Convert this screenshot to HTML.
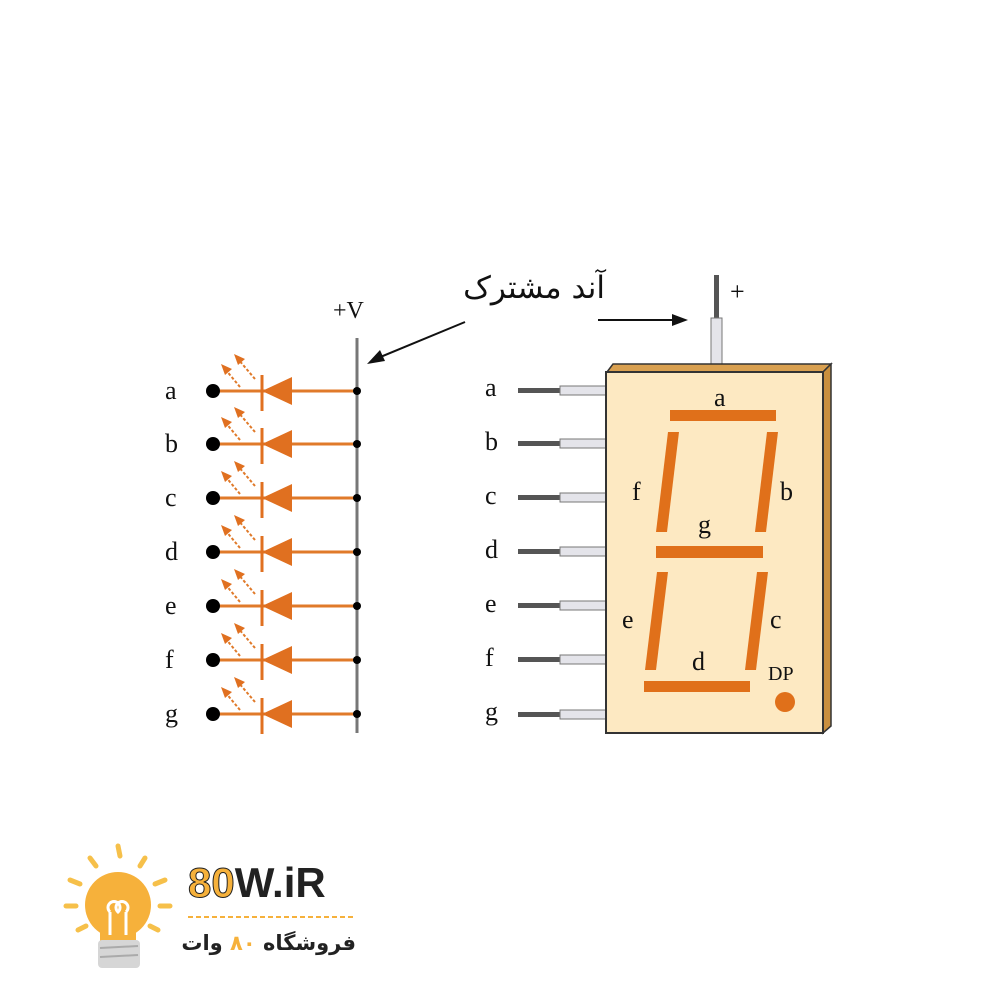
<!DOCTYPE html>
<html><head><meta charset="utf-8"><style>body{margin:0;background:#fff;position:relative;width:1000px;height:1000px}svg{display:block}
.fa{position:absolute;direction:rtl;white-space:nowrap;font-family:"DejaVu Sans",sans-serif;color:#111}</style></head><body>
<svg width="1000" height="1000" viewBox="0 0 1000 1000" xmlns="http://www.w3.org/2000/svg" font-family="Liberation Serif, serif">
<defs>
<g id="dio">
<line x1="213" y1="0" x2="357" y2="0" stroke="#e07a2a" stroke-width="3"/>
<circle cx="213" cy="0" r="7" fill="#000"/>
<circle cx="357" cy="0" r="4" fill="#000"/>
<polygon points="262,0 292,-14 292,14" fill="#e07020"/>
<line x1="262" y1="-16" x2="262" y2="20" stroke="#e07020" stroke-width="3"/>
<line x1="255" y1="-12" x2="238" y2="-32" stroke="#e07a2a" stroke-width="2" stroke-dasharray="3,2"/>
<polygon points="234,-37 245,-32 238,-26" fill="#e07020"/>
<line x1="240" y1="-4" x2="225" y2="-22" stroke="#e07a2a" stroke-width="2" stroke-dasharray="3,2"/>
<polygon points="221,-27 232,-22 225,-16" fill="#e07020"/>
</g>
<g id="pin">
<rect x="518" y="-2" width="44" height="5" fill="#555"/>
<rect x="560" y="-4" width="46" height="9" fill="#e4e4ea" stroke="#777" stroke-width="1"/>
</g>
</defs>
<line x1="357" y1="338" x2="357" y2="733" stroke="#777" stroke-width="3"/>
<g font-size="26" fill="#111">
<text x="333" y="318" font-size="24">+V</text>
<text x="165" y="399">a</text><text x="165" y="452">b</text><text x="165" y="506">c</text><text x="165" y="560">d</text><text x="165" y="614">e</text><text x="165" y="668">f</text><text x="165" y="722">g</text>
</g>
<use href="#dio" y="391"/><use href="#dio" y="444"/><use href="#dio" y="498"/><use href="#dio" y="552"/><use href="#dio" y="606"/><use href="#dio" y="660"/><use href="#dio" y="714"/>
<line x1="465" y1="322" x2="378" y2="358" stroke="#111" stroke-width="2"/>
<polygon points="367,364 380,350 385,361" fill="#111"/>
<line x1="598" y1="320" x2="675" y2="320" stroke="#111" stroke-width="2"/>
<polygon points="688,320 672,314 672,326" fill="#111"/>
<rect x="714" y="275" width="5" height="45" fill="#555"/>
<rect x="711" y="318" width="11" height="47" fill="#e4e4ea" stroke="#777"/>
<text x="730" y="300" font-size="26" fill="#111">+</text>
<g font-size="26" fill="#111">
<text x="485" y="396">a</text><text x="485" y="450">b</text><text x="485" y="504">c</text><text x="485" y="558">d</text><text x="485" y="612">e</text><text x="485" y="666">f</text><text x="485" y="720">g</text>
</g>
<use href="#pin" y="390"/><use href="#pin" y="443"/><use href="#pin" y="497"/><use href="#pin" y="551"/><use href="#pin" y="605"/><use href="#pin" y="659"/><use href="#pin" y="714"/>
<polygon points="607,372 613,364 831,364 823,372" fill="#d9a050" stroke="#333" stroke-width="1.5"/>
<polygon points="823,372 831,364 831,726 823,733" fill="#c98f3e" stroke="#333" stroke-width="1.5"/>
<rect x="606" y="372" width="217" height="361" fill="#fde9c2" stroke="#333" stroke-width="2"/>
<g fill="#e0701a">
<rect x="670" y="410" width="106" height="11"/>
<polygon points="668,432 679,432 667,532 656,532"/>
<polygon points="767,432 778,432 766,532 755,532"/>
<rect x="656" y="546" width="107" height="12"/>
<polygon points="657,572 668,572 656,670 645,670"/>
<polygon points="757,572 768,572 756,670 745,670"/>
<rect x="644" y="681" width="106" height="11"/>
<circle cx="785" cy="702" r="10"/>
</g>
<g font-size="26" fill="#111">
<text x="714" y="406">a</text><text x="632" y="500">f</text><text x="780" y="500">b</text><text x="698" y="533">g</text>
<text x="622" y="628">e</text><text x="770" y="628">c</text><text x="692" y="670">d</text>
<text x="768" y="680" font-size="20">DP</text>
</g>
<g stroke="#f6c04a" stroke-width="5" stroke-linecap="round">
<line x1="118" y1="846" x2="120" y2="856"/><line x1="90" y1="858" x2="96" y2="866"/><line x1="145" y1="858" x2="140" y2="866"/>
<line x1="70" y1="880" x2="80" y2="884"/><line x1="165" y1="880" x2="155" y2="884"/>
<line x1="66" y1="906" x2="76" y2="906"/><line x1="170" y1="906" x2="160" y2="906"/>
<line x1="78" y1="930" x2="86" y2="926"/><line x1="158" y1="930" x2="150" y2="926"/>
</g>
<circle cx="118" cy="905" r="33" fill="#f6b13b"/>
<rect x="100" y="925" width="36" height="20" fill="#f6b13b"/>
<path d="M110,935 V912 M126,935 V912 M110,912 a6,6 0 1 1 8,0 a6,6 0 1 1 8,0" stroke="#fff" stroke-width="3" fill="none"/>
<rect x="98" y="940" width="42" height="28" rx="4" fill="#d6d6d6"/>
<line x1="100" y1="948" x2="138" y2="946" stroke="#aaa" stroke-width="2"/><line x1="100" y1="957" x2="138" y2="955" stroke="#aaa" stroke-width="2"/>
<text x="188" y="897" font-family="Liberation Sans, sans-serif" font-weight="bold" font-size="42"><tspan fill="#f6b13b" stroke="#222" stroke-width="1">80</tspan><tspan fill="#222">W.iR</tspan></text>
<line x1="188" y1="917" x2="356" y2="917" stroke="#f6b13b" stroke-width="2" stroke-dasharray="5,3"/>
</svg>
<div class="fa" style="right:395px;top:270px;font-size:31px;line-height:36px">آند مشترک</div>
<div class="fa" style="right:644px;top:929px;font-size:21px;line-height:28px;font-weight:bold;color:#222">فروشگاه <span style="color:#f6b13b">۸۰</span> وات</div>
</body></html>
